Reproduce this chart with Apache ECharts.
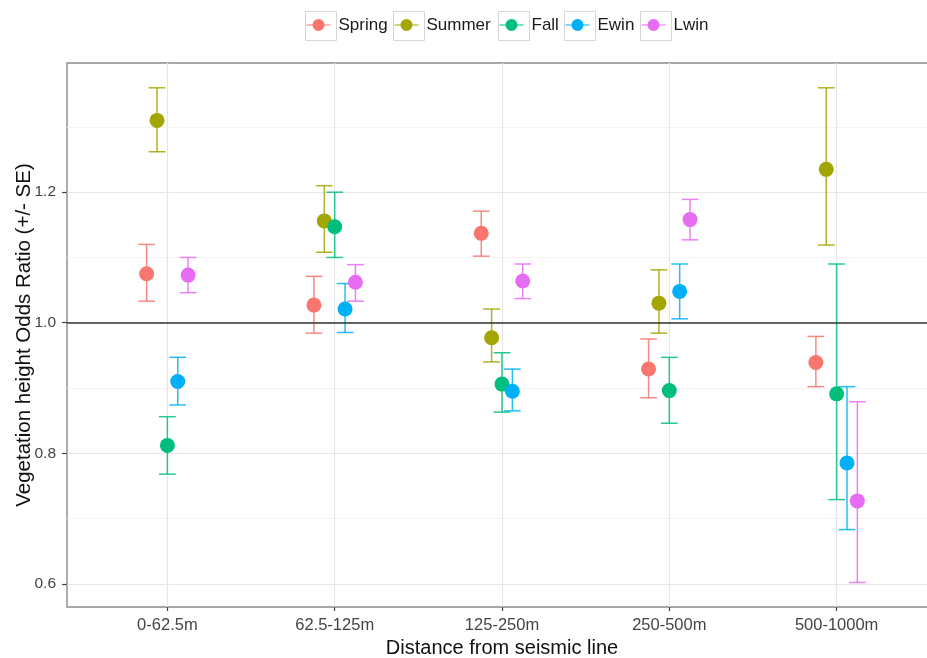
<!DOCTYPE html>
<html>
<head>
<meta charset="utf-8">
<title>Vegetation height odds ratio by distance from seismic line</title>
<script src="https://cdn.jsdelivr.net/npm/echarts@6/dist/echarts.min.js"></script>
<style>
  html, body { margin: 0; padding: 0; background: #ffffff; }
  #chart { width: 927px; height: 658px; }
</style>
</head>
<body>
<div id="chart"></div>
<script>
// Distance classes (x axis) and seasons (groups)
const categories = ['0-62.5m', '62.5-125m', '125-250m', '250-500m', '500-1000m'];
const seasons = ['Spring', 'Summer', 'Fall', 'Ewin', 'Lwin'];
const seasonColors = ['#F8766D', '#A3A500', '#00BF7D', '#00B0F6', '#E76BF3'];

// Odds ratio estimates with lower / upper (+/- SE) bounds
const springOR   = [1.075, 1.027, 1.137, 0.929, 0.939];
const springLow  = [1.033, 0.984, 1.102, 0.885, 0.902];
const springHigh = [1.120, 1.071, 1.171, 0.975, 0.979];

const summerOR   = [1.310, 1.156, 0.977, 1.030, 1.235];
const summerLow  = [1.262, 1.108, 0.940, 0.984, 1.119];
const summerHigh = [1.360, 1.210, 1.021, 1.081, 1.360];

const fallOR     = [0.812, 1.147, 0.906, 0.896, 0.891];
const fallLow    = [0.768, 1.100, 0.863, 0.846, 0.729];
const fallHigh   = [0.856, 1.200, 0.954, 0.947, 1.090];

const ewinOR     = [0.910, 1.021, 0.895, 1.048, 0.785];
const ewinLow    = [0.874, 0.985, 0.865, 1.006, 0.683];
const ewinHigh   = [0.947, 1.060, 0.929, 1.090, 0.902];

const lwinOR     = [1.073, 1.062, 1.064, 1.158, 0.727];
const lwinLow    = [1.046, 1.033, 1.037, 1.127, 0.602];
const lwinHigh   = [1.100, 1.089, 1.090, 1.189, 0.879];

// Axis ticks
const yMajorTicks = [0.6, 0.8, 1.0, 1.2];
const yMinorTicks = [0.7, 0.9, 1.1, 1.3];
const referenceLine = 1.0;

const seriesValues = [
  { or: springOR, low: springLow, high: springHigh },
  { or: summerOR, low: summerLow, high: summerHigh },
  { or: fallOR,   low: fallLow,   high: fallHigh },
  { or: ewinOR,   low: ewinLow,   high: ewinHigh },
  { or: lwinOR,   low: lwinLow,   high: lwinHigh }
];

// Dodge groups side by side around each category position
const dodgeWidth = 0.31;
const capWidth = 0.1;
const xTicks = categories.map((c, i) => i + 1);
function dodgedX(catIndex, groupIndex) {
  const step = dodgeWidth / seasons.length;
  return catIndex + 1 + (groupIndex - (seasons.length - 1) / 2) * step;
}

const FONT = '"Liberation Sans", Arial, sans-serif';

const errorBarSeries = seasons.map((name, g) => ({
  name: name,
  type: 'custom',
  z: 2,
  encode: { x: 0, y: [1, 2] },
  data: categories.map((c, i) => [dodgedX(i, g), seriesValues[g].low[i], seriesValues[g].high[i]]),
  renderItem: function (params, api) {
    const x = api.value(0);
    const lo = api.coord([x, api.value(1)]);
    const hi = api.coord([x, api.value(2)]);
    const half = api.size([capWidth, 0])[0] / 2;
    const style = { stroke: seasonColors[g], lineWidth: 1.5, opacity: 0.85 };
    return {
      type: 'group',
      children: [
        { type: 'line', shape: { x1: lo[0], y1: lo[1], x2: hi[0], y2: hi[1] }, style: style },
        { type: 'line', shape: { x1: hi[0] - half, y1: hi[1], x2: hi[0] + half, y2: hi[1] }, style: style },
        { type: 'line', shape: { x1: lo[0] - half, y1: lo[1], x2: lo[0] + half, y2: lo[1] }, style: style }
      ]
    };
  }
}));

const pointSeries = seasons.map((name, g) => ({
  name: name,
  type: 'scatter',
  z: 3,
  symbol: 'circle',
  symbolSize: 15,
  itemStyle: { color: seasonColors[g], opacity: 1 },
  data: categories.map((c, i) => [dodgedX(i, g), seriesValues[g].or[i]])
}));

// Reference line at odds ratio = 1
const refLineSeries = {
  type: 'line',
  data: [],
  z: 1,
  markLine: {
    silent: true,
    symbol: 'none',
    label: { show: false },
    lineStyle: { color: '#333333', width: 1.6, type: 'solid' },
    data: [{ yAxis: referenceLine }]
  }
};

// ggplot-style legend keys: line + point inside a grey key box
const keyIcon = 'path://M0,5.4H24V6.6H0Z M18,6A6,6 0 1,1 6,6A6,6 0 1,1 18,6Z';
const keyBoxLeft = [303, 391, 496, 562, 638];
const keyBoxTop = 9;
const keyBoxSize = [31, 29];

const legends = seasons.map((name, g) => ({
  data: [{ name: name, icon: keyIcon, itemStyle: { color: seasonColors[g] } }],
  left: keyBoxLeft[g] + 3.5,
  top: 16.5,
  itemWidth: 24,
  itemHeight: 12,
  padding: 0,
  selectedMode: false,
  textStyle: { fontFamily: FONT, fontSize: 17, color: '#1a1a1a', padding: [0, 0, 0, 3] }
}));

const keyBoxes = keyBoxLeft.map(x => ({
  type: 'rect',
  left: x,
  top: keyBoxTop,
  z: 0,
  shape: { width: keyBoxSize[0], height: keyBoxSize[1] },
  style: { fill: 'none', stroke: '#d6d6d6', lineWidth: 1 }
}));

const chart = echarts.init(document.getElementById('chart'), null, { renderer: 'canvas' });

chart.setOption({
  animation: false,
  backgroundColor: '#ffffff',
  legend: legends,
  graphic: keyBoxes,
  grid: {
    left: 67,
    right: -10,
    top: 63,
    bottom: 51,
    show: true,
    borderColor: '#8a8a8a',
    borderWidth: 1.4,
    backgroundColor: 'transparent',
    outerBoundsMode: 'none'
  },
  xAxis: {
    type: 'value',
    min: 0.4,
    max: 5.6,
    name: 'Distance from seismic line',
    nameLocation: 'middle',
    nameGap: 30,
    nameTextStyle: { fontFamily: FONT, fontSize: 20, color: '#111111' },
    axisLine: { show: false },
    axisTick: { show: true, customValues: xTicks, length: 4, lineStyle: { color: '#444444', width: 1.2 } },
    axisLabel: {
      customValues: xTicks,
      margin: 10,
      fontFamily: FONT,
      fontSize: 16.5,
      color: '#444444',
      formatter: v => categories[Math.round(v) - 1] || ''
    },
    splitLine: { show: true, lineStyle: { color: '#e6e6e6', width: 1.2 } }
  },
  yAxis: [
    {
      type: 'value',
      min: 0.5644,
      max: 1.398,
      name: 'Vegetation height Odds Ratio (+/- SE)',
      nameLocation: 'middle',
      nameRotate: 90,
      nameGap: 32,
      nameMoveOverlap: false,
      nameTextStyle: { fontFamily: FONT, fontSize: 20.5, color: '#111111' },
      axisLine: { show: false },
      axisTick: { show: true, customValues: yMajorTicks, length: 5, lineStyle: { color: '#444444', width: 1.2 } },
      axisLabel: {
        customValues: yMajorTicks,
        margin: 11,
        fontFamily: FONT,
        fontSize: 15.5,
        color: '#444444',
        formatter: v => v.toFixed(1)
      },
      splitLine: { show: true, lineStyle: { color: '#e6e6e6', width: 1.2 } }
    },
    {
      type: 'value',
      min: 0.5644,
      max: 1.398,
      position: 'left',
      axisLine: { show: false },
      axisTick: { show: false, customValues: yMinorTicks },
      axisLabel: { show: false, customValues: yMinorTicks },
      splitLine: { show: true, lineStyle: { color: '#f4f4f4', width: 1 } }
    }
  ],
  series: [refLineSeries].concat(errorBarSeries, pointSeries)
});
</script>
</body>
</html>
